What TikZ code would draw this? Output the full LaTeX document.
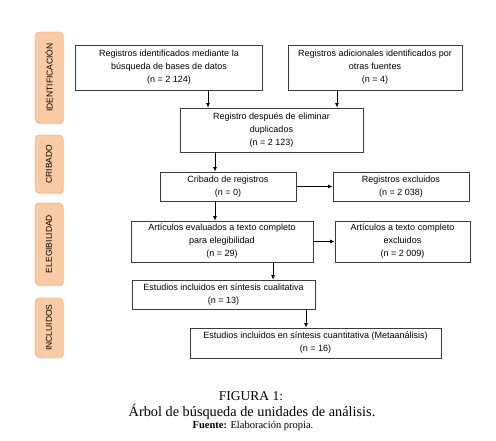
\documentclass[tikz,border=0pt]{standalone}
\usepackage{fontspec}
\setmainfont{Liberation Serif}
\setsansfont{Liberation Sans}
\usetikzlibrary{arrows.meta,calc,shadows}
\definecolor{LineClr}{RGB}{60,60,60}
\definecolor{PhaseClr}{RGB}{250,203,164}
\definecolor{PhaseLineClr}{RGB}{238,160,98}

\begin{document}
\begin{tikzpicture}[x=1pt,y=-1pt,
  box/.style={draw=LineClr,line width=0.8pt,align=center,inner sep=1pt,
    font=\sffamily\fontsize{9}{13}\selectfont},
  phase/.style={draw=PhaseLineClr,fill=PhaseClr,rounded corners=4pt,rotate=90,
    minimum height=28pt,inner sep=0pt,font=\sffamily\fontsize{8.5}{10}\selectfont,
    drop shadow={shadow xshift=1pt,shadow yshift=-1.5pt,opacity=0.25}},
  arr/.style={-{Latex[length=4.5pt,width=4pt]},line width=0.8pt,black}]

\useasboundingbox (0,0) rectangle (496,441);

\node[phase,minimum width=91pt] (pId) at (49,77.5) {IDENTIFICACIÓN};
\node[phase,minimum width=58pt] (pCr) at (49,164) {CRIBADO};
\node[phase,minimum width=82pt] (pEl) at (49,244) {ELEGIBILIDAD};
\node[phase,minimum width=59pt] (pIn) at (49,327.5) {INCLUIDOS};

\node[box,minimum width=187pt,minimum height=45pt] (bDb) at (169,67.5)
  {Registros identificados mediante la\\búsqueda de bases de datos\\(n = 2 124)};
\node[box,minimum width=174pt,minimum height=45pt] (bOt) at (375,67.5)
  {Registros adicionales identificados por\\otras fuentes\\(n = 4)};
\node[box,minimum width=183pt,minimum height=44pt] (bDup) at (271.5,130)
  {Registro después de eliminar\\duplicados\\(n = 2 123)};
\node[box,minimum width=136pt,minimum height=29pt] (bCri) at (228,186.5)
  {Cribado de registros\\(n = 0)};
\node[box,minimum width=136pt,minimum height=29pt] (bExc) at (401,186.5)
  {Registros excluidos\\(n = 2 038)};
\node[box,minimum width=182pt,minimum height=41pt] (bEva) at (222,241.5)
  {Artículos evaluados a texto completo\\para elegibilidad\\(n = 29)};
\node[box,minimum width=135pt,minimum height=41pt] (bArt) at (402.5,241.5)
  {Artículos a texto completo\\excluidos\\(n = 2 009)};
\node[box,minimum width=183pt,minimum height=29pt] (bCua) at (223.5,294.5)
  {Estudios incluidos en síntesis cualitativa\\(n = 13)};
\node[box,minimum width=251pt,minimum height=30pt] (bMet) at (315.5,343)
  {Estudios incluidos en síntesis cuantitativa (Metaanálisis)\\(n = 16)};

\coordinate (xA) at (208,0);
\coordinate (xB) at (337,0);
\coordinate (xC) at (215,0);
\coordinate (xD) at (273,0);
\coordinate (xE) at (306,0);

\draw[arr] (bDb.south -| xA) -- (bDup.north -| xA);
\draw[arr] (bOt.south -| xB) -- (bDup.north -| xB);
\draw[arr] (bDup.south -| xC) -- (bCri.north -| xC);
\draw[arr] (bCri.south -| xC) -- (bEva.north -| xC);
\draw[arr] (bEva.south -| xD) -- (bCua.north -| xD);
\draw[arr] (bCua.south -| xE) -- (bMet.north -| xE);
\draw[arr] (bCri) -- (bExc);
\draw[arr] (bEva) -- (bArt);

\node[anchor=base,font=\fontsize{13.5}{14}\selectfont] (cNum) at (251,400) {FIGURA 1:};
\node[anchor=base,font=\fontsize{14.3}{15}\selectfont] (cTit) at (252,416) {Árbol de búsqueda de unidades de análisis.};
\node[anchor=base,font=\fontsize{10.5}{11}\selectfont] (cSrc) at (253,428.5) {\textbf{Fuente:} Elaboración propia.};

\end{tikzpicture}
\end{document}
